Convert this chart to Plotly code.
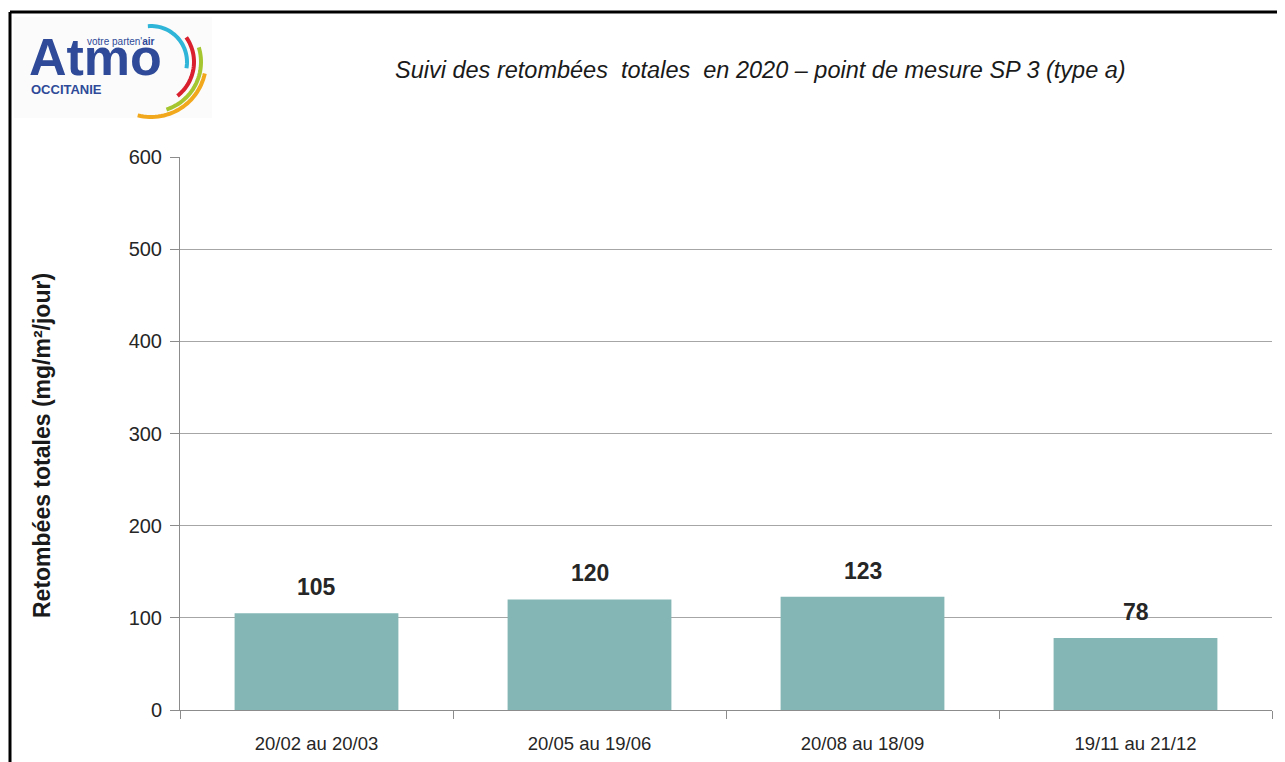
import math
import plotly.graph_objects as go

categories = ["20/02 au 20/03", "20/05 au 19/06", "20/08 au 18/09", "19/11 au 21/12"]
values = [105, 120, 123, 78]
y_ticks = [0, 100, 200, 300, 400, 500, 600]

OFF = 8  # page offset of the figure
W, H = 1285 - OFF, 762 - OFF
L, R, T, B = 180 - OFF, 13, 157 - OFF, 52
PW, PH = W - L - R, H - T - B

def px(x):
    return (x - OFF - L) / PW

def py(y):
    return (H - B - (y - OFF)) / PH

FONT = "Liberation Sans, Arial, sans-serif"
BAR = "#84B6B6"

fig = go.Figure()
fig.add_trace(go.Bar(x=categories, y=values, marker=dict(color=BAR, line=dict(width=0)),
                     hoverinfo="x+y"))

for c, v in zip(categories, values):
    fig.add_annotation(x=c, y=v, text=f"<b>{v}</b>", showarrow=False, yanchor="bottom",
                       yshift=11, font=dict(family=FONT, size=23, color="#262626"))

# Title
fig.add_annotation(x=px(760), y=py(70), xref="paper", yref="paper", showarrow=False,
                   text="<i>Suivi des retombées  totales  en 2020 – point de mesure SP 3 (type a)</i>",
                   font=dict(family=FONT, size=23.5, color="#1a1a1a"), xanchor="center", yanchor="middle")

# Y-axis title
fig.add_annotation(x=px(42), y=py(446), xref="paper", yref="paper", showarrow=False, textangle=-90,
                   text="<b>Retombées totales (mg/m²/jour)</b>", xanchor="center", yanchor="middle",
                   font=dict(family=FONT, size=23, color="#1a1a1a"))

shapes = []
# frame (top and left lines)
shapes.append(dict(type="line", xref="paper", yref="paper", x0=px(10), x1=px(1300), y0=py(12), y1=py(12),
                   line=dict(color="black", width=3)))
shapes.append(dict(type="line", xref="paper", yref="paper", x0=px(10), x1=px(10), y0=py(12), y1=py(780),
                   line=dict(color="black", width=3)))
# light logo background
shapes.append(dict(type="rect", xref="paper", yref="paper", x0=px(14), x1=px(212), y0=py(17), y1=py(118),
                   line=dict(width=0), fillcolor="#FBFBFB", layer="below"))

arcs = [
    (151, 62, 36, 95, -10, "#2FB5D8"),
    (151, 62, 43, 35, -52, "#D9202F"),
    (151, 62, 50, 17, -72, "#A6C630"),
    (151, 62, 55, -12, -104, "#F2A81D"),
]
for cx, cy, r, a0, a1, col in arcs:
    n = 30
    pts = []
    for i in range(n + 1):
        a = math.radians(a0 + (a1 - a0) * i / n)
        xx = cx + r * math.cos(a)
        yy = cy - r * math.sin(a)
        pts.append((px(xx), py(yy)))
    path = "M " + " L ".join(f"{x:.5f},{y:.5f}" for x, y in pts)
    shapes.append(dict(type="path", xref="paper", yref="paper", path=path,
                       line=dict(color=col, width=4)))

fig.add_annotation(x=px(27), y=py(57), xref="paper", yref="paper", showarrow=False,
                   text="<b>Atmo</b>", xanchor="left", yanchor="middle",
                   font=dict(family=FONT, size=52, color="#2E4A98"))
fig.add_annotation(x=px(85), y=py(42), xref="paper", yref="paper", showarrow=False,
                   text="votre parten'<b>air</b>", xanchor="left", yanchor="middle",
                   font=dict(family=FONT, size=10, color="#2E4A98"))
fig.add_annotation(x=px(29), y=py(89), xref="paper", yref="paper", showarrow=False,
                   text="<b>OCCITANIE</b>", xanchor="left", yanchor="middle",
                   font=dict(family=FONT, size=13, color="#2E4A98"))

fig.update_layout(
    width=W, height=H,
    margin=dict(l=L, r=R, t=T, b=B),
    paper_bgcolor="white", plot_bgcolor="white",
    showlegend=False, bargap=0.4,
    shapes=shapes,
    font=dict(family=FONT, color="#262626"),
)
fig.update_xaxes(showline=True, linecolor="#8C8C8C", linewidth=1, ticks="outside", tickson="boundaries",
                 ticklen=8, tickcolor="#8C8C8C", showgrid=False, ticklabelstandoff=17, automargin=False,
                 tickfont=dict(family=FONT, size=18.5, color="#262626"))
fig.update_yaxes(range=[0, 600], tickvals=y_ticks, showline=True, linecolor="#8C8C8C", linewidth=1,
                 ticks="outside", ticklen=9, tickcolor="#8C8C8C", showgrid=True, gridcolor="#A6A6A6",
                 gridwidth=1, zeroline=False, ticklabelstandoff=4, automargin=False,
                 tickfont=dict(family=FONT, size=20, color="#262626"))

fig.write_html("out.html")
